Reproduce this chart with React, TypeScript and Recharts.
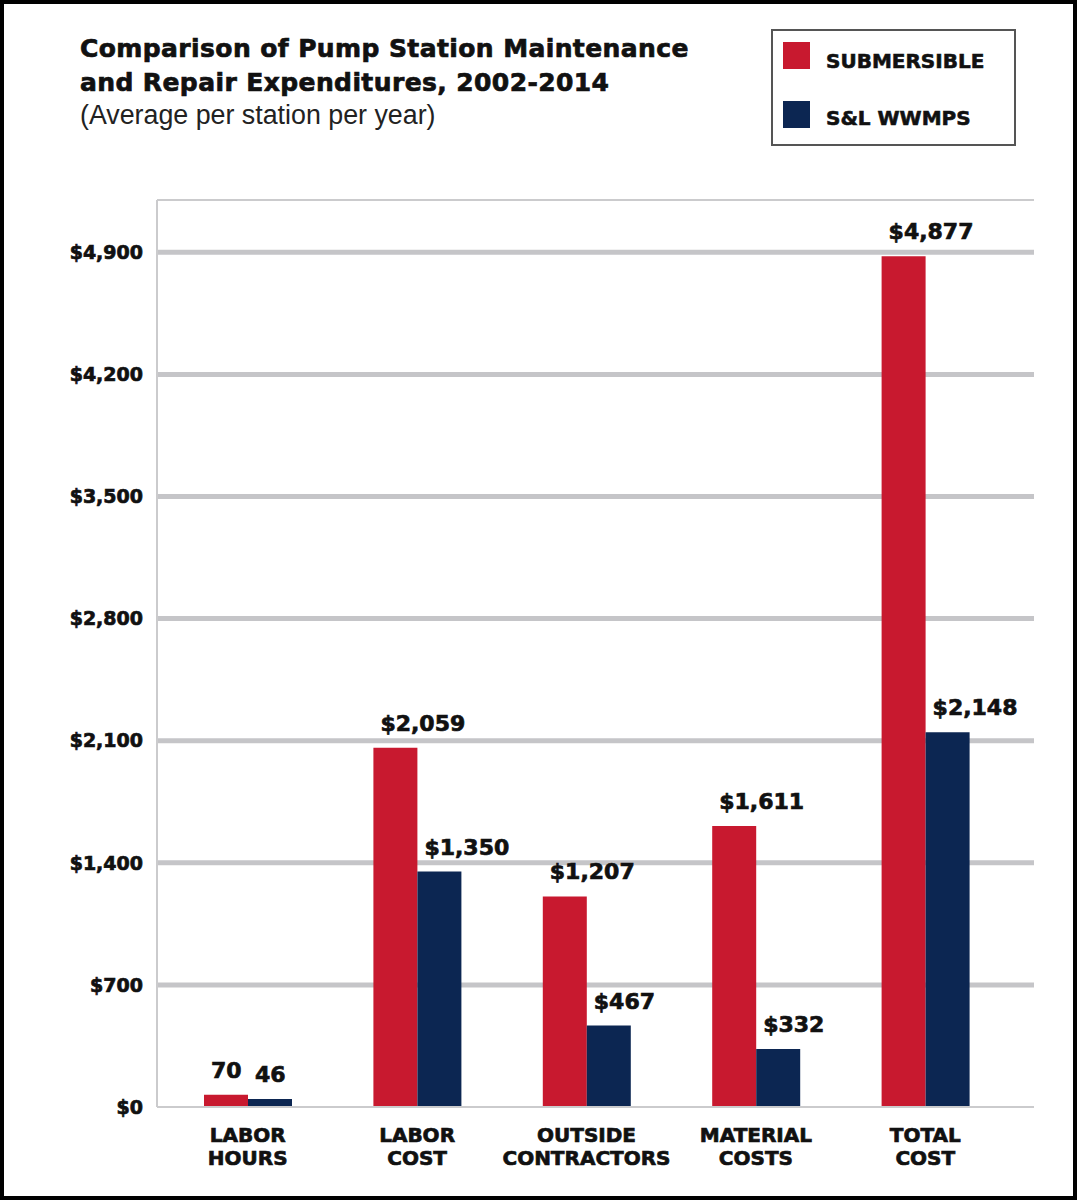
import {
  Bar,
  BarChart,
  CartesianGrid,
  LabelList,
  ReferenceLine,
  XAxis,
  YAxis,
} from 'recharts';

const CATEGORIES = ['LABOR HOURS', 'LABOR COST', 'OUTSIDE CONTRACTORS', 'MATERIAL COSTS', 'TOTAL COST'];
const SUBMERSIBLE = [70, 2059, 1207, 1611, 4877];
const SL_WWMPS = [46, 1350, 467, 332, 2148];
const Y_TICKS = [0, 700, 1400, 2100, 2800, 3500, 4200, 4900];
const GRID_VALUES = [700, 1400, 2100, 2800, 3500, 4200, 4900];
const Y_MAX = 5200;
const SERIES_NAMES = ['SUBMERSIBLE', 'S&L WWMPS'];

const RED = '#c8192f';
const NAVY = '#0c2652';
const GRID = '#c5c5c8';
const BORDER = '#cbcbcd';
const INK = '#111';
const BOLD_FONT = '"DejaVu Sans", sans-serif';
// the original uses a black-weight face; a thin outline thickens DejaVu Bold
const HEAVY = { stroke: INK, strokeWidth: 0.7 };

const rows = CATEGORIES.map((name, i) => ({
  name,
  submersible: SUBMERSIBLE[i],
  slwwmps: SL_WWMPS[i],
}));

// labor hours are a count, everything else is dollars
function format_value(v: number, index: number): string {
  if (index === 0) return String(v);
  return '$' + v.toLocaleString('en-US');
}

function format_dollar(v: number): string {
  return '$' + v.toLocaleString('en-US');
}

function ValueLabel(props: any) {
  const vb = props.viewBox || {};
  const x = Number(props.x ?? vb.x);
  const y = Number(props.y ?? vb.y);
  return (
    <text
      x={x + 7}
      y={y - 17}
      textAnchor="start"
      fontFamily={BOLD_FONT}
      fontWeight={700}
      fontSize={22}
      fill={INK}
      {...HEAVY}
    >
      {format_value(Number(props.value), props.index)}
    </text>
  );
}

function CategoryTick({ x, y, payload }: any) {
  const words = String(payload.value).split(' ');
  return (
    <text
      x={x}
      y={y}
      textAnchor="middle"
      fontFamily={BOLD_FONT}
      fontWeight={700}
      fontSize={20}
      fill={INK}
      {...HEAVY}
    >
      {words.map((w, i) => (
        <tspan key={i} x={x} dy={i === 0 ? 35 : 23}>
          {w}
        </tspan>
      ))}
    </text>
  );
}

function LegendBox() {
  const colors = [RED, NAVY];
  return (
    <div
      style={{
        position: 'absolute',
        left: 771,
        top: 29,
        width: 245,
        height: 117,
        boxSizing: 'border-box',
        border: '2px solid #555',
        background: '#fff',
      }}
    >
      {SERIES_NAMES.map((name, i) => (
        <div key={name}>
          <div
            style={{
              position: 'absolute',
              left: 10,
              top: 11 + i * 59,
              width: 27,
              height: 27,
              background: colors[i],
            }}
          />
          <div
            style={{
              position: 'absolute',
              left: 53,
              top: 15 + i * 57,
              lineHeight: '30px',
              fontFamily: BOLD_FONT,
              fontWeight: 700,
              fontSize: 20,
              color: INK,
              WebkitTextStroke: '0.6px #111',
              whiteSpace: 'nowrap',
            }}
          >
            {name}
          </div>
        </div>
      ))}
    </div>
  );
}

export default function App() {
  return (
    <div
      style={{
        position: 'absolute',
        left: 0,
        top: 0,
        width: 1079,
        height: 1200,
        background: '#fff',
        overflow: 'hidden',
      }}
    >
      <BarChart
        width={1079}
        height={1200}
        data={rows}
        margin={{ top: 200, right: 45, bottom: 0, left: 0 }}
        barGap={0}
        barSize={44}
      >
        <CartesianGrid
          yAxisId="left"
          vertical={false}
          horizontalValues={GRID_VALUES}
          stroke={GRID}
          strokeWidth={5}
        />
        <XAxis
          dataKey="name"
          height={93}
          padding={{ left: 6, right: 24 }}
          tickLine={false}
          tickSize={0}
          tickMargin={0}
          axisLine={{ stroke: BORDER, strokeWidth: 2 }}
          tick={<CategoryTick />}
          interval={0}
        />
        <YAxis
          yAxisId="left"
          width={157}
          domain={[0, Y_MAX]}
          ticks={Y_TICKS}
          allowDataOverflow
          tickLine={false}
          tickSize={0}
          tickMargin={14}
          axisLine={{ stroke: BORDER, strokeWidth: 2 }}
          tickFormatter={format_dollar}
          tick={{ fontFamily: BOLD_FONT, fontWeight: 700, fontSize: 19, fill: INK, ...HEAVY }}
        />
        <YAxis
          yAxisId="right"
          orientation="right"
          width={0}
          domain={[0, Y_MAX]}
          tick={false}
          tickLine={false}
          axisLine={{ stroke: BORDER, strokeWidth: 2 }}
        />
        <ReferenceLine yAxisId="left" y={Y_MAX} stroke={BORDER} strokeWidth={2} />
        <Bar yAxisId="left" dataKey="submersible" fill={RED} isAnimationActive={false}>
          <LabelList dataKey="submersible" content={<ValueLabel />} />
        </Bar>
        <Bar yAxisId="left" dataKey="slwwmps" fill={NAVY} isAnimationActive={false}>
          <LabelList dataKey="slwwmps" content={<ValueLabel />} />
        </Bar>
      </BarChart>

      <div
        style={{
          position: 'absolute',
          left: 80,
          top: 32,
          fontFamily: BOLD_FONT,
          fontWeight: 700,
          fontSize: 25,
          letterSpacing: 0.4,
          lineHeight: '34px',
          color: INK,
          WebkitTextStroke: '0.7px #111',
          whiteSpace: 'nowrap',
        }}
      >
        <div>Comparison of Pump Station Maintenance</div>
        <div>and Repair Expenditures, 2002-2014</div>
      </div>
      <div
        style={{
          position: 'absolute',
          left: 80,
          top: 100,
          fontFamily: '"Liberation Sans", Arial, sans-serif',
          fontSize: 26.8,
          lineHeight: '30px',
          color: '#222',
          whiteSpace: 'nowrap',
        }}
      >
        (Average per station per year)
      </div>

      <LegendBox />

      <div
        style={{
          position: 'absolute',
          left: 0,
          top: 0,
          width: 1077,
          height: 1200,
          boxSizing: 'border-box',
          border: '4px solid #000',
          pointerEvents: 'none',
        }}
      />
    </div>
  );
}
